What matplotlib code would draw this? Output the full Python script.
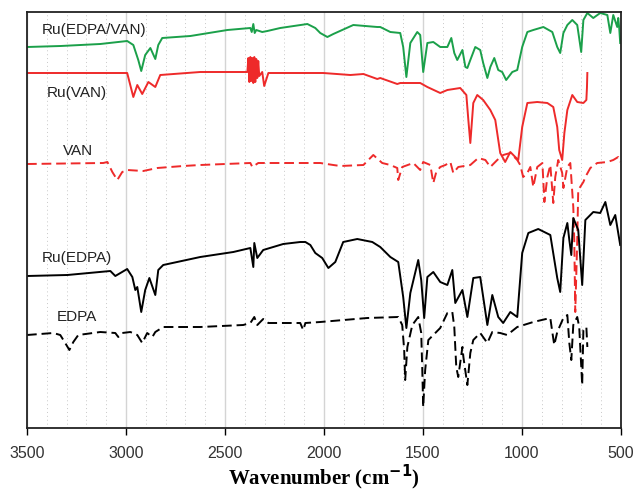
import numpy as np
import matplotlib
matplotlib.use("Agg")
import matplotlib.pyplot as plt
from matplotlib.ticker import MultipleLocator

# ---- data (wavenumber cm-1, offset transmittance a.u.) ----
green_w = [3500, 3330, 3130, 2994, 2963, 2938, 2923, 2903, 2877, 2852, 2837, 2817, 2675, 2488, 2372, 2365, 2357, 2350, 2342, 2312, 2286, 2221, 2084, 2044, 2019, 1983, 1953, 1852, 1731, 1716, 1665, 1615, 1600, 1584, 1564, 1529, 1514, 1499, 1478, 1448, 1413, 1377, 1357, 1342, 1327, 1301, 1286, 1276, 1261, 1236, 1211, 1196, 1175, 1160, 1140, 1120, 1100, 1080, 1049, 1024, 999, 973, 943, 892, 847, 822, 807, 791, 771, 746, 721, 701, 690, 670, 640, 605, 569, 554, 539, 519, 514, 509, 504]
green_y = [381, 382, 384, 387, 383, 368, 357, 373, 380, 369, 383, 390, 392, 398, 400, 396, 404, 395, 398, 396, 397, 400, 404, 400, 395, 391, 394, 403, 401, 401, 396, 395, 381, 351, 385, 396, 393, 356, 385, 386, 381, 381, 390, 375, 368, 378, 361, 360, 368, 381, 378, 365, 350, 361, 370, 358, 356, 348, 356, 358, 381, 396, 398, 401, 396, 381, 375, 395, 403, 408, 403, 376, 408, 415, 410, 415, 413, 395, 413, 401, 410, 400, 385]

ruvan_w = [3500, 3130, 2994, 2963, 2943, 2918, 2887, 2852, 2827, 2625, 2387, 2382, 2377, 2372, 2367, 2362, 2357, 2352, 2347, 2342, 2337, 2332, 2327, 2312, 2302, 2281, 2004, 1867, 1801, 1731, 1716, 1630, 1615, 1514, 1478, 1413, 1377, 1312, 1281, 1271, 1261, 1246, 1226, 1196, 1160, 1135, 1110, 1085, 1059, 1034, 1019, 999, 973, 923, 872, 842, 822, 812, 797, 786, 771, 746, 721, 690, 675, 672, 670]
ruvan_y = [355, 355, 355, 331, 343, 334, 346, 341, 353, 356, 356, 370, 346, 371, 347, 370, 345, 371, 346, 369, 350, 367, 352, 356, 342, 355, 355, 353, 354, 349, 350, 344, 345, 345, 341, 335, 338, 340, 333, 308, 285, 325, 333, 328, 318, 308, 275, 266, 276, 271, 268, 301, 325, 326, 325, 321, 301, 278, 268, 295, 318, 333, 326, 325, 328, 340, 355]

van_w = [3500, 3115, 3094, 3069, 3044, 3019, 2994, 2913, 2842, 2711, 2625, 2372, 2362, 2332, 2019, 1953, 1918, 1801, 1751, 1706, 1665, 1630, 1625, 1605, 1549, 1514, 1499, 1463, 1448, 1433, 1413, 1387, 1362, 1347, 1322, 1261, 1221, 1185, 1160, 1125, 1095, 1059, 1024, 1009, 994, 973, 958, 943, 923, 897, 887, 872, 857, 842, 832, 817, 797, 791, 771, 756, 741, 736, 731, 721, 716, 690, 680, 655, 620, 569, 539, 514, 504]
van_y = [264, 265, 266, 256, 248, 256, 258, 257, 260, 262, 263, 265, 261, 265, 265, 263, 262, 263, 273, 265, 263, 260, 248, 261, 265, 258, 266, 263, 245, 256, 261, 263, 266, 255, 261, 263, 270, 268, 261, 268, 273, 275, 268, 263, 251, 255, 261, 241, 261, 265, 226, 251, 263, 225, 251, 268, 255, 240, 261, 265, 221, 188, 116, 188, 238, 246, 251, 260, 265, 266, 268, 271, 266]

ruedpa_w = [3500, 3296, 3079, 3054, 2994, 2968, 2953, 2943, 2923, 2903, 2882, 2852, 2837, 2812, 2625, 2458, 2372, 2357, 2352, 2337, 2307, 2206, 2120, 2094, 2069, 2044, 2009, 1978, 1943, 1903, 1832, 1756, 1716, 1665, 1625, 1600, 1584, 1564, 1524, 1509, 1494, 1478, 1448, 1413, 1377, 1352, 1337, 1301, 1276, 1246, 1211, 1175, 1150, 1120, 1095, 1059, 1024, 999, 968, 918, 857, 822, 807, 791, 771, 761, 751, 741, 716, 696, 680, 640, 605, 579, 554, 529, 514, 504]
ruedpa_y = [152, 153, 157, 152, 159, 151, 138, 141, 116, 138, 150, 133, 158, 163, 171, 176, 180, 161, 185, 170, 178, 184, 186, 186, 183, 175, 170, 160, 166, 186, 189, 186, 181, 171, 166, 131, 100, 135, 168, 148, 110, 151, 156, 146, 143, 158, 125, 138, 111, 150, 151, 103, 133, 111, 105, 116, 111, 175, 195, 199, 193, 150, 136, 190, 205, 188, 173, 210, 198, 143, 208, 216, 215, 226, 203, 213, 195, 183]

edpa_w = [3500, 3367, 3332, 3307, 3286, 3266, 3241, 3130, 3054, 3039, 3019, 2978, 2943, 2918, 2893, 2867, 2852, 2812, 2625, 2408, 2372, 2352, 2337, 2307, 2281, 2120, 2105, 2094, 2019, 1781, 1625, 1605, 1595, 1590, 1579, 1554, 1524, 1509, 1504, 1499, 1489, 1473, 1448, 1413, 1377, 1352, 1342, 1332, 1322, 1301, 1296, 1276, 1261, 1246, 1211, 1175, 1150, 1110, 1075, 1024, 943, 857, 847, 837, 822, 791, 771, 761, 751, 741, 721, 711, 696, 690, 675, 670]
edpa_y = [93, 95, 93, 85, 78, 86, 93, 96, 95, 91, 95, 96, 93, 85, 95, 91, 96, 101, 101, 103, 105, 111, 103, 109, 105, 105, 98, 105, 106, 110, 111, 103, 78, 48, 81, 103, 111, 95, 61, 21, 58, 88, 93, 100, 115, 116, 101, 61, 51, 81, 71, 43, 75, 88, 95, 85, 96, 95, 93, 101, 106, 110, 96, 83, 96, 110, 113, 85, 68, 103, 111, 101, 43, 98, 101, 81]

labels = ["Ru(EDPA/VAN)", "Ru(VAN)", "VAN", "Ru(EDPA)", "EDPA"]
label_pos = [(3160, 398), (3246, 335), (3241, 277), (3246, 170), (3246, 111)]
xticks = [3500, 3000, 2500, 2000, 1500, 1000, 500]

# ---- figure ----
fig = plt.figure(figsize=(6.34, 4.92), dpi=100)
ax = fig.add_axes([27/634, 1-428/492, (621-27)/634, (428-12)/492])

green = "#1ba04a"
red = "#ee2a2a"
ax.plot(green_w, green_y, color=green, lw=1.4)
ax.plot(ruvan_w, ruvan_y, color=red, lw=1.4)
ax.plot(van_w, van_y, color=red, lw=1.4, linestyle=(0, (5, 2.5)))
ax.plot(ruedpa_w, ruedpa_y, color="black", lw=1.4)
ax.plot(edpa_w, edpa_y, color="black", lw=1.4, linestyle=(0, (5, 2.5)))

for t, (x, y) in zip(labels, label_pos):
    ax.text(x, y, t, ha="center", va="center", fontsize=11,
            family="Liberation Sans", color="#222222")

ax.set_xlim(3500, 500)
ax.set_ylim(0, 416)
ax.set_xticks(xticks)
ax.set_xticklabels([str(v) for v in xticks], family="Liberation Sans",
                   fontsize=11.5, color="#333333")
ax.xaxis.set_minor_locator(MultipleLocator(100))
ax.set_yticks([])
ax.grid(True, which="major", axis="x", color="#d4d4d4", lw=1.0, ls="-")
ax.grid(True, which="minor", axis="x", color="#c8c8c8", lw=0.7, ls=(0, (1, 3)))
ax.set_axisbelow(True)
ax.tick_params(axis="x", which="major", direction="out", length=5, width=1.0, pad=8)
ax.tick_params(axis="x", which="minor", length=0)
for s in ax.spines.values():
    s.set_linewidth(1.3)
    s.set_color("#222222")

ax.set_xlabel("Wavenumber (cm$^{\\mathbf{-1}}$)", family="Liberation Serif",
              fontweight="bold", fontsize=15, labelpad=1)

fig.savefig("out.png", dpi=100)
